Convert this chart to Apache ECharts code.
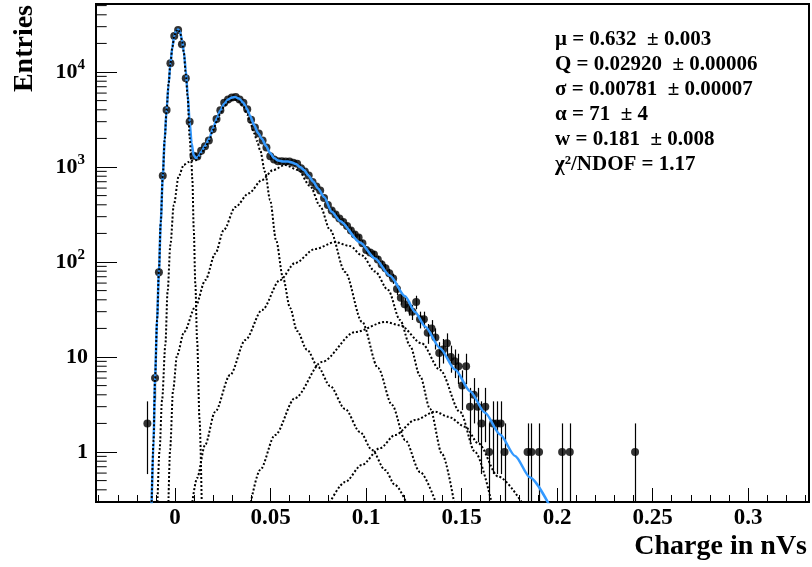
<!DOCTYPE html>
<html><head><meta charset="utf-8">
<script src="https://cdn.jsdelivr.net/npm/echarts@6/dist/echarts.min.js"></script>
<style>html,body{margin:0;padding:0;background:#fff}
#wrap{position:relative;width:812px;height:567px}
#c,#t{position:absolute;left:0;top:0;width:812px;height:567px}
#t{pointer-events:none}</style>
</head><body><div id="wrap"><div id="c"></div><div id="t"></div></div>
<script>
// ---- histogram data (bin centre in nVs, entries) ----
const chargeBins = [-0.01449,-0.01047,-0.00846,-0.00645,-0.00444,-0.00243,-0.00042,0.00159,0.00360,0.00561,
0.00762,0.00963,0.01164,0.01366,0.01567,0.01768,0.01969,0.02170,0.02371,0.02572,
0.02773,0.02974,0.03175,0.03376,0.03577,0.03778,0.03979,0.04180,0.04381,0.04582,
0.04783,0.04984,0.05185,0.05386,0.05588,0.05789,0.05990,0.06191,0.06392,0.06593,
0.06794,0.06995,0.07196,0.07397,0.07598,0.07799,0.08000,0.08201,0.08402,0.08603,
0.08804,0.09005,0.09206,0.09407,0.09609,0.09810,0.10011,0.10212,0.10413,0.10614,
0.10815,0.11016,0.11217,0.11418,0.11619,0.11820,0.12021,0.12222,0.12423,0.12624,
0.12825,0.13026,0.13227,0.13428,0.13630,0.13831,0.14032,0.14233,0.14434,0.14635,
0.14836,0.15037,0.15238,0.15439,0.15640,0.15841,0.16042,0.16243,0.16444,0.16645,
0.16846,0.17047,0.17248,0.18454,0.18656,0.19058,0.20264,0.20666,0.24084];
const entries = [2,6,78,810,3980,12400,23900,27700,19600,8600,
3000,1315,1290,1480,1650,1900,2500,3200,3950,4750,
5150,5400,5450,5150,4750,4050,3150,2600,2250,1900,
1600,1300,1200,1150,1150,1140,1140,1110,1080,970,
897,814,695,623,566,472,398,348,316,287,
264,239,215,195,181,158,134,126,120,106,
94,86,76,67,52,42,36,33,30,38,
25,25,18,20,16,11,12,14,10,9,
8,5,8,3,4,3,2,3,1,2,
2,2,1,1,1,1,1,1,1];

// ---- total fit (blue) ----
const fitCharge = [-0.01230,-0.01126,-0.01047,-0.00942,-0.00848,-0.00749,-0.00644,-0.00545,-0.00445,-0.00340,
-0.00241,-0.00141,-0.00042,0.00052,0.00157,0.00262,0.00361,0.00461,0.00560,0.00660,
0.00764,0.00864,0.00969,0.01099,0.01230,0.01361,0.01571,0.01780,0.01990,0.02199,
0.02356,0.02565,0.02775,0.02984,0.03141,0.03351,0.03560,0.03770,0.03927,0.04136,
0.04346,0.04555,0.04764,0.04974,0.05183,0.05393,0.05654,0.05916,0.06126,0.06335,
0.06545,0.06754,0.06963,0.07225,0.07487,0.07801,0.08204,0.08639,0.09686,0.10471,
0.11257,0.12042,0.12565,0.13089,0.13874,0.14660,0.15445,0.16230,0.17016,0.17801,0.18586,0.19634];
const fitEntries = [0.27,1.34,6.01,24.5,78.5,264,804,1924,3981,7475,
12435,18334,23924,27016,28018,26379,21720,16236,10497,5867,
2976,1789,1338,1235,1290,1438,1664,1971,2573,3280,
3886,4605,5135,5390,5455,5261,4775,4079,3443,2768,
2280,1971,1664,1404,1244,1171,1143,1143,1115,1075,
1000,930,824,704,594,483,338,270,160,109,
71.5,43.5,29.8,21.0,12.4,7.37,4.37,2.59,1.53,0.908,0.538,0.267];

// ---- components (dotted) ----
const pedCharge = [-0.01230,-0.01126,-0.01047,-0.00942,-0.00848,-0.00749,-0.00644,-0.00545,-0.00445,-0.00340,-0.00241,-0.00141,-0.00042,0.00052,0.00157,0.00262,0.00361,0.00461,0.00560,0.00660,0.00764,0.00853,0.00906,0.00979,0.01063,0.01152,0.01283,0.01398];
const pedEntries = [0.27,1.34,6.01,24.5,78.5,264,804,1924,3981,7475,12435,18334,23924,27016,28018,26050,21460,15849,9527,5455,2020,1129,730,217,57.3,15.1,2.17,0.27];

const pe1Charge = [-0.00927,-0.00812,-0.00681,-0.00508,-0.00393,-0.00246,-0.00068,0.00194,0.00455,0.00717,0.00942,0.01152,0.01361,0.01571,0.01780,0.01990,0.02199,0.02356,0.02565,0.02775,0.02984,0.03141,0.03351,0.03560,0.03770,0.03927,0.04136,0.04293,0.04450,0.04712,0.04974,0.05288,0.05654,0.06021,0.06387,0.06911,0.07487,0.08115,0.08901,0.09686,0.10314,0.10995,0.11518,0.12188];
const pe1Entries = [0.27,1.05,3.53,13.4,48.3,151,398,804,1050,1129,1171,1185,1370,1605,1878,2452,3050,3614,4334,4833,5073,5135,4893,4387,3614,2976,2280,1878,1510,886,449,170,67.9,32.8,18.8,11.9,7.85,4.95,2.84,1.62,1.05,0.646,0.449,0.27];

const pe2Charge = [-0.00351,-0.00262,-0.00105,0.00105,0.00471,0.01063,0.01586,0.02110,0.02550,0.03157,0.03859,0.04555,0.05131,0.05759,0.06440,0.07068,0.07592,0.08115,0.08901,0.09791,0.10628,0.11361,0.12042,0.12827,0.13717];
const pe2Entries = [0.27,1.05,4.49,10.5,18.3,33.8,64.6,123,217,379,529,730,930,1050,930,631,389,217,78.5,23.4,7.66,3.12,1.34,0.616,0.27];

const pe3Charge = [0.00874,0.01152,0.01571,0.02094,0.02880,0.03681,0.04555,0.05497,0.06283,0.07330,0.08377,0.09162,0.09791,0.10471,0.11152,0.11780,0.12304,0.12827,0.13351,0.13979,0.14660];
const pe3Entries = [0.27,0.532,1.185,2.64,6.46,15.1,31.2,64.6,97.6,137,162,147,117,79.4,50.7,24.5,13.1,6.31,2.84,0.953,0.257];

const pe4Charge = [0.03927,0.04450,0.05236,0.06283,0.07681,0.09424,0.10995,0.11780,0.12916,0.13874,0.14921,0.15707,0.16649];
const pe4Entries = [0.27,0.646,1.51,3.70,8.86,18.3,23.4,21.6,13.9,7.30,2.64,1.0,0.251];

const pe5Charge = [0.08010,0.08901,0.09775,0.10733,0.11518,0.12565,0.13613,0.14309,0.15183,0.15880,0.16927,0.18272];
const pe5Entries = [0.27,0.483,0.730,1.10,1.51,2.17,2.66,2.35,1.85,1.23,0.550,0.27];

// ---- axes ----
const xTickLabels = [0,0.05,0.1,0.15,0.2,0.25,0.3];
const xMinorTicks = [-0.04,-0.03,-0.02,-0.01,0,0.01,0.02,0.03,0.04,0.05,0.06,0.07,0.08,0.09,0.1,0.11,0.12,0.13,0.14,0.15,0.16,0.17,0.18,0.19,0.2,0.21,0.22,0.23,0.24,0.25,0.26,0.27,0.28,0.29,0.3,0.31,0.32,0.33];
const yMinorTicks = [0.3,0.4,0.5,0.6,0.7,0.8,0.9,2,3,4,5,6,7,8,9,20,30,40,50,60,70,80,90,200,300,400,500,600,700,800,900,2000,3000,4000,5000,6000,7000,8000,9000,20000,30000,40000,50000];
const X_MIN = -0.0414, X_MAX = 0.3319;
const Y_MIN = 0.2977, Y_MAX = 51980;

const statLines = ['μ = 0.632  ± 0.003','Q = 0.02920  ± 0.00006','σ = 0.00781  ± 0.00007','α = 71  ± 4','w = 0.181  ± 0.008','χ²/NDOF = 1.17'];

const FONT = '"Liberation Serif","Times New Roman",serif';
const GRID = {left:96, top:4, width:713, height:498};
const PX = (X_MAX - X_MIN) / GRID.width;
const zip = (a,b) => a.map((v,i)=>[v,b[i]]);

const dotted = (name, xs, ys) => ({
  name, type:'line', data: zip(xs,ys), showSymbol:false, smooth:0.3, smoothMonotone:'x',
  lineStyle:{color:'#000', width:2, type:[2,2]}, z:5, silent:true
});

// ---------- main chart ----------
const chart = echarts.init(document.getElementById('c'), null, {renderer:'canvas'});
const option = {
  animation:false,
  grid:Object.assign({show:true, borderColor:'#000', borderWidth:2, backgroundColor:'transparent'}, GRID),
  xAxis:[{
    type:'value', min:X_MIN, max:X_MAX, splitLine:{show:false},
    axisLine:{show:false, onZero:false},
    axisTick:{show:true, inside:true, length:14, customValues:xTickLabels, lineStyle:{color:'#000', width:1}},
    axisLabel:{customValues:xTickLabels, formatter:v=>String(Math.round(v*100)/100), fontFamily:FONT, fontWeight:'bold', fontSize:23, color:'#000', margin:5}
  },{
    type:'value', min:X_MIN, max:X_MAX, position:'bottom', splitLine:{show:false},
    axisLine:{show:false, onZero:false},
    axisTick:{show:true, inside:true, length:7, customValues:xMinorTicks, lineStyle:{color:'#000', width:1}},
    axisLabel:{show:false}
  }],
  yAxis:[{
    type:'log', logBase:10, min:Y_MIN, max:Y_MAX, position:'left', splitLine:{show:false},
    axisLine:{show:false, onZero:false},
    axisTick:{show:false},
    axisLabel:{showMinLabel:false, showMaxLabel:false, margin:8,
      formatter:v=>{const e=Math.round(Math.log10(v)); if(e===0) return '{b|1}'; if(e===1) return '{b|10}'; return '{b|10}{s|'+e+'}';},
      rich:{
        b:{fontFamily:FONT, fontWeight:'bold', fontSize:22, color:'#000', lineHeight:28},
        s:{fontFamily:FONT, fontWeight:'bold', fontSize:15, color:'#000', verticalAlign:'top', lineHeight:15, padding:[0,3,0,0]}
      }}
  }],
  series:[
    {type:'custom', name:'errors', z:2, silent:true,
      data: chargeBins.map((x,i)=>{const n=entries[i], e=Math.sqrt(n); return [x, Math.max(n-e,1e-3), n+e];}),
      encode:{x:0, y:[1,2]},
      renderItem:(params, api)=>{
        const cs = params.coordSys;
        const t = api.coord([api.value(0), api.value(2)]);
        const b = api.coord([api.value(0), api.value(1)]);
        const y1 = Math.max(t[1], cs.y), y2 = Math.min(b[1], cs.y+cs.height);
        if (!(y2 > y1)) return null;
        const xx = Math.round(t[0])+0.5;
        return {type:'line', shape:{x1:xx, y1:y1, x2:xx, y2:y2}, style:{stroke:'#000', lineWidth:1.2}};
      }},
    {type:'scatter', name:'data', data: zip(chargeBins, entries), symbol:'circle', symbolSize:8,
      itemStyle:{color:'#000'}, z:3, silent:true},
    {type:'line', name:'fit', data: zip(fitCharge, fitEntries), showSymbol:false, smooth:0.25, smoothMonotone:'x',
      lineStyle:{color:'#3399ff', width:2.5}, z:4, silent:true},
    dotted('n0', pedCharge, pedEntries),
    dotted('n1', pe1Charge, pe1Entries),
    dotted('n2', pe2Charge, pe2Entries),
    dotted('n3', pe3Charge, pe3Entries),
    dotted('n4', pe4Charge, pe4Entries),
    dotted('n5', pe5Charge, pe5Entries)
  ],
  graphic:[
    {type:'text', x:807, y:547, silent:true, style:{text:'Charge in nVs', font:'bold 28px '+FONT, fill:'#000', align:'right', textAlign:'right', verticalAlign:'middle', textVerticalAlign:'middle'}},
    {type:'text', x:25, y:5, rotation:Math.PI/2, silent:true, style:{text:'Entries', font:'bold 28px '+FONT, fill:'#000', align:'right', textAlign:'right', verticalAlign:'middle', textVerticalAlign:'middle'}}
  ].concat(statLines.map((t,i)=>({type:'text', x:555, y:40+25*i, silent:true,
      style:{text:t, font:'bold 21px '+FONT, fill:'#000', align:'left', textAlign:'left', verticalAlign:'middle', textVerticalAlign:'middle'}})))
};
try { chart.setOption(option); } catch (e) { console.error(e); }

// ---------- overlay: y-axis ticks on the same log scale (major at decades, ROOT-style minors at 2..9) ----------
const ticks = echarts.init(document.getElementById('t'), null, {renderer:'canvas'});
ticks.setOption({
  animation:false,
  grid:Object.assign({show:false}, GRID),
  xAxis:[{type:'value', min:X_MIN, max:X_MAX, show:false}],
  yAxis:[{type:'log', logBase:10, min:Y_MIN, max:Y_MAX, splitLine:{show:false},
    axisLine:{show:false, onZero:false},
    axisTick:{show:true, inside:true, length:21, lineStyle:{color:'#000', width:1}},
    axisLabel:{show:false}}],
  series:[{type:'line', name:'yMinor', showSymbol:false, silent:true,
    lineStyle:{color:'#000', width:1},
    data: yMinorTicks.flatMap(v=>[[X_MIN, v],[X_MIN + 10.7*PX, v],[X_MIN,'-']])}]
});
</script></body></html>
